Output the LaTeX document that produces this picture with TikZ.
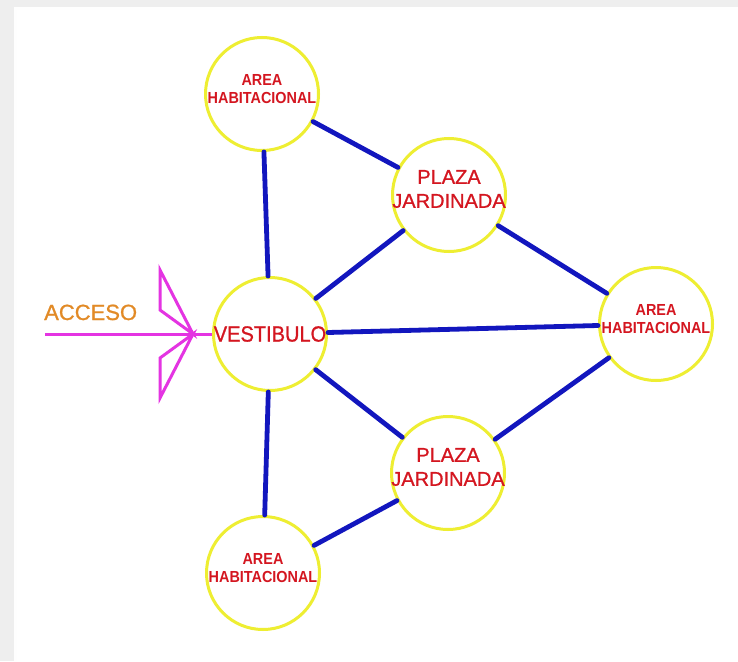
\documentclass[tikz,border=0pt]{standalone}
\usepackage{fontspec}
\setmainfont{Liberation Sans}
\newfontfamily\areafont[FakeStretch=0.9]{Liberation Sans}
\newfontfamily\plazafont[FakeBold=0.9]{Liberation Sans}
\newfontfamily\vestfont[FakeStretch=0.91,FakeBold=0.9]{Liberation Sans}

\definecolor{ringyellow}{RGB}{238,238,50}
\definecolor{linkblue}{RGB}{18,22,190}
\definecolor{labelred}{RGB}{212,22,32}
\definecolor{accessmag}{RGB}{228,52,226}
\definecolor{accessorange}{RGB}{226,138,38}
\definecolor{frame}{RGB}{238,238,238}

\tikzset{
  space/.style={circle, draw=ringyellow, line width=3pt, minimum size=113pt, inner sep=0pt},
  arealabel/.style={text=labelred, align=center, inner sep=0pt,
    font=\areafont\bfseries\fontsize{16}{18}\selectfont, yshift=5pt},
  plazalabel/.style={text=labelred, align=center, inner sep=0pt,
    font=\plazafont\fontsize{20}{24}\selectfont, yshift=6pt},
  vestlabel/.style={text=labelred, inner sep=0pt, font=\vestfont\fontsize{22}{24}\selectfont},
  link/.style={draw=linkblue, line width=4.8pt, line cap=round},
  access/.style={draw=accessmag, line width=3pt, line join=miter},
}

\begin{document}
\begin{tikzpicture}[x=1pt, y=-1pt]
  % page with a light grey frame along the top and left edges
  \fill[frame] (0,0) rectangle (738,661);
  \fill[white!97!frame] (14,7) rectangle (738,661);
  \fill[white] (17,10) rectangle (738,661);
  \useasboundingbox (0,0) rectangle (738,661);

  % spaces
  \node[space] (areaN) at (262,94) {};
  \node[space] (vest)  at (270,334) {};
  \node[space] (plazaN) at (449,195) {};
  \node[space] (areaE) at (656,324) {};
  \node[space] (plazaS) at (448,473) {};
  \node[space] (areaS) at (263,573) {};

  % links between spaces
  \draw[link] (areaN) -- (vest);
  \draw[link] (areaN) -- (plazaN);
  \draw[link] (plazaN) -- (vest);
  \draw[link] (plazaN) -- (areaE);
  \draw[link] (vest) -- (areaE);
  \draw[link] (vest) -- (plazaS);
  \draw[link] (plazaS) -- (areaE);
  \draw[link] (vest) -- (areaS);
  \draw[link] (plazaS) -- (areaS);

  % labels
  \node[arealabel] (areaNt) at (areaN) {AREA\\HABITACIONAL};
  \node[arealabel] (areaEt) at (areaE) {AREA\\HABITACIONAL};
  \node[arealabel] (areaSt) at (areaS) {AREA\\HABITACIONAL};
  \node[plazalabel] (plazaNt) at (plazaN) {PLAZA\\JARDINADA};
  \node[plazalabel] (plazaSt) at (plazaS) {PLAZA\\JARDINADA};
  \node[vestlabel] (vestt) at (vest) {VESTIBULO};

  % access arrow
  \coordinate (accstart) at (45,334);
  \coordinate (tip) at (193,334);
  \draw[access] (accstart) -- (vest.west);
  \draw[access] (160,270) -- (160,310) -- (tip) -- cycle;
  \draw[access] (160,398) -- (160,358) -- (tip) -- cycle;
  \node[text=accessorange, font=\plazafont\fontsize{22}{24}\selectfont, anchor=base west, inner sep=0pt]
    (acceso) at (44,320) {ACCESO};
\end{tikzpicture}
\end{document}
